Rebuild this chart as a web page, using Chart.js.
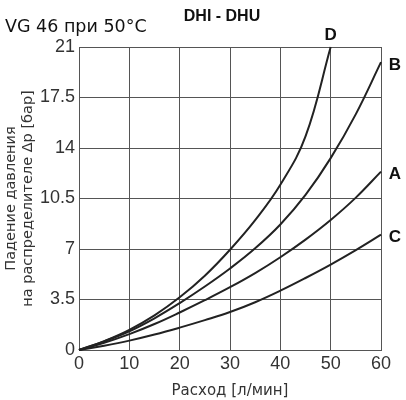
<!DOCTYPE html>
<html>
<head>
<meta charset="utf-8">
<script src="https://cdn.jsdelivr.net/npm/chart.js@4"></script>
<style>
  html, body { margin: 0; padding: 0; background: #fff; }
  #wrap { width: 406px; height: 400px; }
</style>
</head>
<body>
<div id="wrap"><canvas id="chart"></canvas></div>
<script>
// Расход, л/мин
const flow = [0, 5, 10, 15, 20, 25, 30, 35, 40, 45, 50, 55, 60];
// Падение давления, бар
const dropD = [0, 0.62, 1.4, 2.4, 3.65, 5.15, 6.95, 9.0, 11.45, 14.8, 21.0];
const dropB = [0, 0.6, 1.3, 2.2, 3.25, 4.4, 5.65, 7.05, 8.7, 10.75, 13.3, 16.35, 19.95];
const dropA = [0, 0.5, 1.1, 1.8, 2.6, 3.45, 4.35, 5.33, 6.43, 7.65, 9.01, 10.56, 12.36];
const dropC = [0, 0.3, 0.65, 1.07, 1.55, 2.07, 2.63, 3.31, 4.11, 4.99, 5.92, 6.92, 7.99];
const yTicks = [0, 3.5, 7, 10.5, 14, 17.5, 21];

const tickFont = { family: "'Liberation Sans Narrow', 'Liberation Sans', sans-serif", size: 18 };

function toPoints(values) {
  return values.map((v, i) => ({ x: flow[i], y: v }));
}

function makeSet(name, values) {
  return {
    label: name,
    data: toPoints(values),
    borderColor: "#222",
    borderWidth: 2,
    pointRadius: 0,
    fill: false,
    tension: 0.4,
    clip: false,
  };
}

// подписи кривых и заголовки
const textPlugin = {
  id: "texts",
  afterDraw(chart) {
    const ctx = chart.ctx;
    const xs = chart.scales.x;
    const ys = chart.scales.y;
    ctx.save();
    ctx.fillStyle = "#111";
    ctx.textBaseline = "middle";
    ctx.textAlign = "left";
    ctx.font = "17.5px 'DejaVu Sans', sans-serif";
    ctx.fillText("VG 46 при 50°C", 5, 27);
    ctx.textAlign = "center";
    ctx.font = "bold 16px 'Liberation Sans', sans-serif";
    ctx.fillText("DHI - DHU", 222, 17);

    ctx.font = "bold 17px 'Liberation Sans', sans-serif";
    chart.data.datasets.forEach((ds) => {
      const last = ds.data[ds.data.length - 1];
      const px = xs.getPixelForValue(last.x);
      const py = ys.getPixelForValue(last.y);
      if (ds.label === "D") {
        ctx.fillText(ds.label, px, py - 12);
      } else {
        ctx.fillText(ds.label, px + 14, py + 3);
      }
    });
    ctx.restore();
  },
};

new Chart(document.getElementById("chart"), {
  type: "line",
  data: {
    datasets: [
      makeSet("D", dropD),
      makeSet("B", dropB),
      makeSet("A", dropA),
      makeSet("C", dropC),
    ],
  },
  options: {
    responsive: true,
    maintainAspectRatio: false,
    animation: false,
    layout: { padding: { top: 47, right: 25, left: 0, bottom: 0 } },
    plugins: { legend: { display: false }, tooltip: { enabled: false } },
    scales: {
      x: {
        type: "linear",
        min: 0,
        max: 60,
        ticks: { stepSize: 10, color: "#333", font: tickFont, padding: 3 },
        grid: { color: "#555", lineWidth: 1, drawTicks: false },
        border: { color: "#555", width: 1 },
        title: {
          display: true,
          text: "Расход [л/мин]",
          color: "#333",
          font: { family: "'DejaVu Sans', sans-serif", size: 15 },
          padding: { top: 2, bottom: 0 },
        },
        afterFit(scale) { scale.height = 50; },
      },
      y: {
        type: "linear",
        min: 0,
        max: 21,
        afterBuildTicks(scale) { scale.ticks = yTicks.map((v) => ({ value: v })); },
        ticks: { color: "#333", font: tickFont, padding: 4 },
        grid: { color: "#555", lineWidth: 1, drawTicks: false },
        border: { color: "#555", width: 1 },
        title: {
          display: true,
          text: ["Падение давления", "на распределителе Δp [бар]"],
          color: "#333",
          font: { family: "'DejaVu Sans', sans-serif", size: 14.5, lineHeight: 1.15 },
          padding: { top: 3, bottom: 0 },
        },
        afterFit(scale) { scale.width = 79; },
      },
    },
  },
  plugins: [textPlugin],
});
</script>
</body>
</html>
